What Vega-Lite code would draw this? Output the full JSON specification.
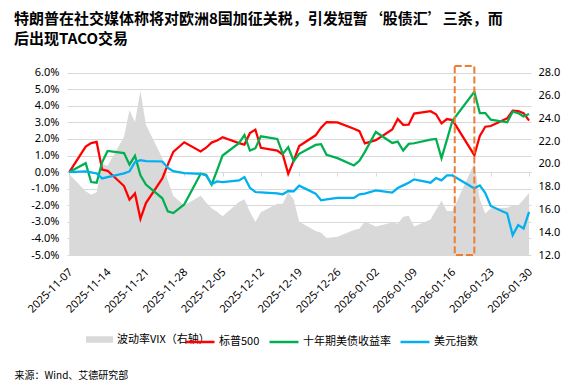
{
  "$schema": "https://vega.github.io/schema/vega-lite/v6.json",
  "width": 464,
  "height": 189,
  "autosize": {"type": "none"},
  "padding": {"left": 67, "top": 66, "right": 53, "bottom": 130},
  "background": "white",
  "config": {
    "view": {"stroke": null},
    "axis": {"labelFont": "Noto Sans", "labelFontSize": 11, "labelColor": "#000000"},
    "legend": {"labelFont": "Noto Sans CJK SC", "labelFontSize": 11, "labelColor": "#000000"}
  },
  "title": {
    "text": ["特朗普在社交媒体称将对欧洲8国加征关税，引发短暂‘股债汇’三杀，而", "后出现TACO交易"],
    "anchor": "start",
    "frame": "group",
    "dx": -53,
    "offset": 18,
    "font": "Noto Sans CJK SC",
    "fontSize": 15,
    "fontWeight": "bold",
    "lineHeight": 20,
    "color": "#000000"
  },
  "data": {
    "values": [
      {"date": "2025-11-07T00:00:00", "标普500": 0, "十年期美债收益率": 0, "美元指数": 0, "vix": 19.08},
      {"date": "2025-11-10T00:00:00", "标普500": 1.54, "十年期美债收益率": 0.54, "美元指数": 0.04, "vix": 17.6},
      {"date": "2025-11-11T00:00:00", "标普500": 1.75, "十年期美债收益率": -0.6, "美元指数": -0.02, "vix": 17.28},
      {"date": "2025-11-12T00:00:00", "标普500": 1.82, "十年期美债收益率": -0.64, "美元指数": -0.08, "vix": 17.51},
      {"date": "2025-11-13T00:00:00", "标普500": 0.15, "十年期美债收益率": 0.6, "美元指数": -0.38, "vix": 20.0},
      {"date": "2025-11-14T00:00:00", "标普500": 0.08, "十年期美债收益率": 1.28, "美元指数": -0.3, "vix": 19.83},
      {"date": "2025-11-17T00:00:00", "标普500": -0.84, "十年期美债收益率": 1.15, "美元指数": -0.08, "vix": 22.38},
      {"date": "2025-11-18T00:00:00", "标普500": -1.66, "十年期美债收益率": 0.45, "美元指数": 0.04, "vix": 24.69},
      {"date": "2025-11-19T00:00:00", "标普500": -1.29, "十年期美债收益率": 0.99, "美元指数": 0.6, "vix": 23.66},
      {"date": "2025-11-20T00:00:00", "标普500": -2.82, "十年期美债收益率": -0.19, "美元指数": 0.72, "vix": 26.42},
      {"date": "2025-11-21T00:00:00", "标普500": -1.87, "十年期美债收益率": -0.75, "美元指数": 0.66, "vix": 23.43},
      {"date": "2025-11-24T00:00:00", "标普500": -0.38, "十年期美债收益率": -1.58, "美元指数": 0.64, "vix": 20.52},
      {"date": "2025-11-25T00:00:00", "标普500": 0.45, "十年期美债收益率": -2.37, "美元指数": 0.26, "vix": 18.56},
      {"date": "2025-11-26T00:00:00", "标普500": 1.22, "十年期美债收益率": -2.47, "美元指数": 0.06, "vix": 17.19},
      {"date": "2025-11-28T00:00:00", "标普500": 1.8, "十年期美债收益率": -1.95, "美元指数": -0.06, "vix": 16.35},
      {"date": "2025-12-01T00:00:00", "标普500": 1.25, "十年期美债收益率": -0.1, "美元指数": -0.1, "vix": 17.2},
      {"date": "2025-12-02T00:00:00", "标普500": 1.47, "十年期美债收益率": -0.16, "美元指数": -0.2, "vix": 16.6},
      {"date": "2025-12-03T00:00:00", "标普500": 1.78, "十年期美债收益率": -0.76, "美元指数": -0.72, "vix": 16.1},
      {"date": "2025-12-04T00:00:00", "标普500": 1.9, "十年期美债收益率": 0.1, "美元指数": -0.56, "vix": 15.8},
      {"date": "2025-12-05T00:00:00", "标普500": 2.1, "十年期美债收益率": 1.0, "美元指数": -0.6, "vix": 15.4},
      {"date": "2025-12-08T00:00:00", "标普500": 1.75, "十年期美债收益率": 1.75, "美元指数": -0.5, "vix": 16.65},
      {"date": "2025-12-09T00:00:00", "标普500": 1.66, "十年期美债收益率": 2.24, "美元指数": -0.3, "vix": 16.9},
      {"date": "2025-12-10T00:00:00", "标普500": 2.35, "十年期美债收益率": 1.3, "美元指数": -0.95, "vix": 15.8},
      {"date": "2025-12-11T00:00:00", "标普500": 2.56, "十年期美债收益率": 1.44, "美元指数": -1.2, "vix": 14.9},
      {"date": "2025-12-12T00:00:00", "标普500": 1.47, "十年期美债收益率": 2.16, "美元指数": -1.22, "vix": 15.75},
      {"date": "2025-12-15T00:00:00", "标普500": 1.3, "十年期美债收益率": 2.0, "美元指数": -1.28, "vix": 16.5},
      {"date": "2025-12-16T00:00:00", "标普500": 1.06, "十年期美债收益率": 1.1, "美元指数": -1.34, "vix": 16.5},
      {"date": "2025-12-17T00:00:00", "标普500": -0.11, "十年期美债收益率": 1.5, "美元指数": -1.14, "vix": 17.5},
      {"date": "2025-12-18T00:00:00", "标普500": 0.69, "十年期美债收益率": 0.66, "美元指数": -1.16, "vix": 16.87},
      {"date": "2025-12-19T00:00:00", "标普500": 1.57, "十年期美债收益率": 1.1, "美元指数": -0.82, "vix": 14.91},
      {"date": "2025-12-22T00:00:00", "标普500": 2.22, "十年期美债收益率": 1.64, "美元指数": -1.3, "vix": 14.1},
      {"date": "2025-12-23T00:00:00", "标普500": 2.68, "十年期美债收益率": 1.68, "美元指数": -1.7, "vix": 13.95},
      {"date": "2025-12-24T00:00:00", "标普500": 3.02, "十年期美债收益率": 1.04, "美元指数": -1.64, "vix": 13.5},
      {"date": "2025-12-26T00:00:00", "标普500": 3.0, "十年期美债收益率": 0.84, "美元指数": -1.56, "vix": 13.6},
      {"date": "2025-12-29T00:00:00", "标普500": 2.62, "十年期美债收益率": 0.4, "美元指数": -1.56, "vix": 14.2},
      {"date": "2025-12-30T00:00:00", "标普500": 2.47, "十年期美债收益率": 0.68, "美元指数": -1.34, "vix": 14.3},
      {"date": "2025-12-31T00:00:00", "标普500": 1.73, "十年期美债收益率": 1.22, "美元指数": -1.3, "vix": 14.95},
      {"date": "2026-01-02T00:00:00", "标普500": 1.93, "十年期美债收益率": 2.42, "美元指数": -1.1, "vix": 14.5},
      {"date": "2026-01-05T00:00:00", "标普500": 2.57, "十年期美债收益率": 1.76, "美元指数": -1.24, "vix": 14.85},
      {"date": "2026-01-06T00:00:00", "标普500": 3.21, "十年期美债收益率": 1.84, "美元指数": -0.96, "vix": 14.75},
      {"date": "2026-01-07T00:00:00", "标普500": 2.85, "十年期美债收益率": 1.3, "美元指数": -0.8, "vix": 15.35},
      {"date": "2026-01-08T00:00:00", "标普500": 2.86, "十年期美债收益率": 1.7, "美元指数": -0.64, "vix": 15.45},
      {"date": "2026-01-09T00:00:00", "标普500": 3.53, "十年期美债收益率": 1.74, "美元指数": -0.44, "vix": 14.5},
      {"date": "2026-01-12T00:00:00", "标普500": 3.67, "十年期美债收益率": 1.96, "美元指数": -0.64, "vix": 15.12},
      {"date": "2026-01-13T00:00:00", "标普500": 3.49, "十年期美债收益率": 2.0, "美元指数": -0.36, "vix": 15.95},
      {"date": "2026-01-14T00:00:00", "标普500": 2.94, "十年期美债收益率": 0.84, "美元指数": -0.5, "vix": 16.75},
      {"date": "2026-01-15T00:00:00", "标普500": 3.2, "十年期美债收益率": 1.96, "美元指数": -0.2, "vix": 15.85},
      {"date": "2026-01-16T00:00:00", "标普500": 3.14, "十年期美债收益率": 3.1, "美元指数": -0.2, "vix": 15.86},
      {"date": "2026-01-20T00:00:00", "标普500": 1.02, "十年期美债收益率": 4.84, "美元指数": -0.98, "vix": 20.05},
      {"date": "2026-01-21T00:00:00", "标普500": 2.18, "十年期美债收益率": 3.56, "美元指数": -0.8, "vix": 16.9},
      {"date": "2026-01-22T00:00:00", "标普500": 2.74, "十年期美债收益率": 3.56, "美元指数": -1.26, "vix": 15.65},
      {"date": "2026-01-23T00:00:00", "标普500": 2.78, "十年期美债收益率": 3.16, "美元指数": -2.04, "vix": 16.1},
      {"date": "2026-01-26T00:00:00", "标普500": 3.24, "十年期美债收益率": 3.0, "美元指数": -2.5, "vix": 16.15},
      {"date": "2026-01-27T00:00:00", "标普500": 3.7, "十年期美债收益率": 3.64, "美元指数": -3.8, "vix": 16.35},
      {"date": "2026-01-28T00:00:00", "标普500": 3.68, "十年期美债收益率": 3.56, "美元指数": -3.2, "vix": 16.35},
      {"date": "2026-01-29T00:00:00", "标普500": 3.56, "十年期美债收益率": 3.36, "美元指数": -3.4, "vix": 16.88},
      {"date": "2026-01-30T00:00:00", "标普500": 3.1, "十年期美债收益率": 3.5, "美元指数": -2.4, "vix": 17.44}
    ]
  },
  "encoding": {
    "x": {
      "field": "date",
      "type": "temporal",
      "scale": {"domain": [{"year": 2025, "month": 11, "date": 6, "hours": 14}, {"year": 2026, "month": 1, "date": 30, "hours": 8, "minutes": 24}]},
      "axis": {
        "values": [
          {"year": 2025, "month": 11, "date": 7}, {"year": 2025, "month": 11, "date": 14}, {"year": 2025, "month": 11, "date": 21},
          {"year": 2025, "month": 11, "date": 28}, {"year": 2025, "month": 12, "date": 5}, {"year": 2025, "month": 12, "date": 12},
          {"year": 2025, "month": 12, "date": 19}, {"year": 2025, "month": 12, "date": 26}, {"year": 2026, "month": 1, "date": 2},
          {"year": 2026, "month": 1, "date": 9}, {"year": 2026, "month": 1, "date": 16}, {"year": 2026, "month": 1, "date": 23},
          {"year": 2026, "month": 1, "date": 30}
        ],
        "format": "%Y-%m-%d",
        "labelAngle": -45,
        "labelPadding": 90,
        "labelOffset": -3,
        "labelOverlap": false,
        "labelBound": false,
        "labelFlush": false,
        "offset": -83,
        "domain": true,
        "domainColor": "#d9d9d9",
        "ticks": true,
        "tickColor": "#d9d9d9",
        "tickSize": 4,
        "grid": false,
        "title": "来源：Wind、艾德研究部",
        "titleX": -53,
        "titleY": 203,
        "titleAlign": "left",
        "titleAnchor": "start",
        "titleBaseline": "middle",
        "titleFont": "Noto Sans CJK SC",
        "titleFontSize": 10,
        "titleFontWeight": "normal",
        "titleColor": "#000000"
      }
    }
  },
  "layer": [
    {
      "mark": {"type": "area", "opacity": 1, "interpolate": "linear"},
      "encoding": {
        "y": {
          "field": "vix",
          "type": "quantitative",
          "scale": {"domain": [12, 28.582], "zero": false, "nice": false},
          "axis": {
            "orient": "right",
            "values": [12, 14, 16, 18, 20, 22, 24, 26, 28],
            "format": ".1f",
            "grid": false,
            "domain": false,
            "ticks": false,
            "labelPadding": 7,
            "title": null
          }
        },
        "y2": {"datum": 12},
        "fill": {
          "datum": "波动率VIX（右轴）",
          "type": "nominal",
          "scale": {"range": ["#d9d9d9"]},
          "legend": {
            "orient": "none",
            "legendX": 19,
            "legendY": 260,
            "title": null,
            "symbolType": "M-1,-0.24H1V0.24H-1Z",
            "symbolSize": 729,
            "symbolStrokeWidth": 0,
            "symbolOpacity": 1,
            "labelOffset": 4
          }
        }
      }
    },
    {
      "transform": [{"fold": ["标普500", "十年期美债收益率", "美元指数"], "as": ["series", "value"]}],
      "mark": {"type": "line", "strokeWidth": 2.25, "interpolate": "linear"},
      "encoding": {
        "y": {
          "field": "value",
          "type": "quantitative",
          "scale": {"domain": [-5, 6.4], "zero": false, "nice": false},
          "axis": {
            "orient": "left",
            "values": [-5, -4, -3, -2, -1, 0, 1, 2, 3, 4, 5, 6],
            "labelExpr": "(datum.value < 0 ? '-' : '') + format(abs(datum.value), '.1f') + '%'",
            "grid": true,
            "gridColor": "#d9d9d9",
            "gridWidth": 1,
            "domain": false,
            "ticks": false,
            "labelPadding": 8,
            "title": null
          }
        },
        "stroke": {
          "field": "series",
          "type": "nominal",
          "scale": {"domain": ["标普500", "十年期美债收益率", "美元指数"], "range": ["#ff0000", "#00b050", "#00b0f0"]},
          "legend": {
            "orient": "none",
            "legendX": 117,
            "legendY": 260,
            "direction": "horizontal",
            "title": null,
            "symbolType": "stroke",
            "symbolSize": 841,
            "symbolStrokeWidth": 2.5,
            "columnPadding": 4,
            "labelOffset": 3
          }
        }
      }
    },
    {
      "data": {"values": [{"date": "2026-01-16T10:00:00", "end": "2026-01-20T00:00:00"}]},
      "mark": {"type": "rect", "filled": false, "stroke": "#ed7d31", "strokeWidth": 2, "strokeDash": [7, 3]},
      "encoding": {
        "x2": {"field": "end"}
      }
    }
  ],
  "resolve": {"scale": {"y": "independent"}}
}
